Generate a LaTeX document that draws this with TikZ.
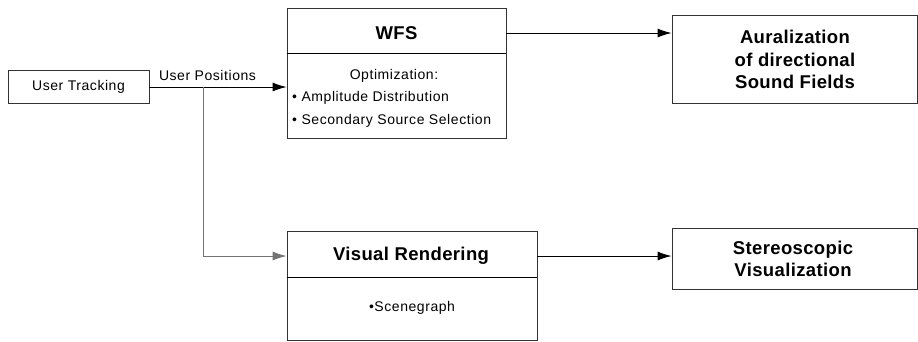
\documentclass[tikz,border=0pt]{standalone}
\usepackage{fontspec}
\setmainfont{Liberation Sans}
\newfontfamily\bodyfont[LetterSpace=4]{Liberation Sans}
\newfontfamily\titlefont[LetterSpace=2]{Liberation Sans}
\usetikzlibrary{arrows.meta,positioning}
\begin{document}
\begin{tikzpicture}[x=1pt,y=-1pt,
  box/.style={draw=black!80, line width=0.9pt, rectangle, inner sep=0pt},
  body/.style={font=\bodyfont\fontsize{14}{22}\selectfont, inner sep=0pt, anchor=center},
  title/.style={font=\titlefont\bfseries\fontsize{18.5}{22.5}\selectfont, inner sep=0pt, align=center, anchor=center},
  arr/.style={draw=black, line width=0.9pt, -{Latex[length=14pt,width=9pt]}},
  divider/.style={draw=black, line width=0.9pt}]
\useasboundingbox (0,0) rectangle (918,341);
% User Tracking
\node[box, minimum width=141, minimum height=33] (ut) at (78.5,87) {};
\node[body] (utl) at (ut.center) {User Tracking};
% WFS
\node[box, minimum width=219, minimum height=130] (wfs) at (396.5,73) {};
\node[title] (wfst) at (396.5,33) {WFS};
\draw[divider] (wfs.west |- 0,53) -- (wfs.east |- 0,53);
\node[body] (opt) at (394,76) {Optimization:};
\node[body, anchor=west] (amp) at (292,98) {\textbullet{} Amplitude Distribution};
\node[body, anchor=west] (sec) at (292,120.5) {\textbullet{} Secondary Source Selection};
% Auralization
\node[box, minimum width=245, minimum height=88] (aur) at (794.5,59) {};
\node[title] (aurl) at (795,59.5) {Auralization\\of directional\\Sound Fields};
% Visual Rendering
\node[box, minimum width=250, minimum height=109] (vr) at (412,285.5) {};
\node[title] (vrt) at (411,256) {Visual Rendering};
\draw[divider] (vr.west |- 0,277) -- (vr.east |- 0,277);
\node[body] (sg) at (412,308) {\textbullet Scenegraph};
% Stereoscopic
\node[box, minimum width=245, minimum height=61] (st) at (794.5,258.5) {};
\node[title] (stl) at (793,259) {Stereoscopic\\Visualization};
% connectors
\draw[arr] (ut.east) -- (ut.east -| wfs.west);
\node[body, anchor=center] (up) at (207.5,75) {User Positions};
\coordinate (br) at (203,87);
\draw[arr, draw=black!55] (br) |- (vrt -| vr.west);
\draw[arr] (wfst -| wfs.east) -- (wfst -| aur.west);
\draw[arr] (vrt -| vr.east) -- (vrt -| st.west);
\end{tikzpicture}
\end{document}
